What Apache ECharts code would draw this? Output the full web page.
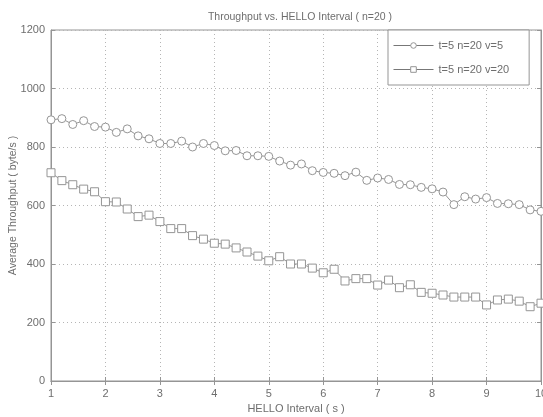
<!DOCTYPE html>
<html><head><meta charset="utf-8">
<script src="https://cdn.jsdelivr.net/npm/echarts@6/dist/echarts.min.js"></script>
<style>html,body{margin:0;padding:0;background:#fff}#c{width:543px;height:417px}</style>
</head><body><div id="c"></div>
<script>
const xs = [1.0,1.2,1.4,1.6,1.8,2.0,2.2,2.4,2.6,2.8,3.0,3.2,3.4,3.6,3.8,4.0,4.2,4.4,4.6,4.8,5.0,5.2,5.4,5.6,5.8,6.0,6.2,6.4,6.6,6.8,7.0,7.2,7.4,7.6,7.8,8.0,8.2,8.4,8.6,8.8,9.0,9.2,9.4,9.6,9.8,10.0];
const v5 = [893,897,877,890,870,868,850,862,838,828,812,812,820,800,812,805,787,788,770,770,768,752,738,742,719,713,710,702,714,686,694,689,672,671,662,657,646,603,630,622,627,607,606,603,585,580];
const v20 = [712,685,671,656,647,613,612,588,562,567,545,521,521,497,485,471,468,455,441,427,411,425,400,400,386,370,382,342,350,350,328,345,319,329,303,300,294,287,287,287,260,277,280,273,254,266];
const seriesNames = ['t=5 n=20 v=5','t=5 n=20 v=20'];
const xTicks = [1,2,3,4,5,6,7,8,9,10];
const yTicks = [0,200,400,600,800,1000,1200];
const titleText = 'Throughput vs. HELLO Interval ( n=20 )';
const xName = 'HELLO Interval ( s )';
const yName = 'Average Throughput ( byte/s )';

const gray = '#959595';
const txt = '#6e6e6e';
const font = 'Liberation Sans';
const chart = echarts.init(document.getElementById('c'));
const tickFmt = v => String(v);
const axisBase = {
  axisLine:{show:true,lineStyle:{color:gray,width:1}},
  axisTick:{show:true,inside:true,length:4,lineStyle:{color:gray}},
};
chart.setOption({
  animation:false,
  backgroundColor:'#fff',
  title:{text:titleText,left:295,textAlign:'center',top:7,textStyle:{color:txt,fontFamily:font,fontSize:10.5,fontWeight:'normal'}},
  grid:{left:51,right:2,top:30,bottom:36,containLabel:false,outerBoundsMode:'none',
        show:true,borderColor:gray,borderWidth:1,backgroundColor:'transparent'},
  legend:{
    orient:'vertical',left:388,top:30,
    itemWidth:40,itemHeight:7,itemGap:13,
    padding:[10,20,10,5],
    borderColor:gray,borderWidth:1,backgroundColor:'#fff',
    itemStyle:{borderWidth:1},
    lineStyle:{width:1,color:'#777'},
    textStyle:{color:txt,fontFamily:font,fontSize:11},
    data:seriesNames
  },
  xAxis:[
    Object.assign({},axisBase,{type:'value',min:1,max:10,interval:1,
      name:xName,nameLocation:'middle',nameGap:22,nameMoveOverlap:false,nameTextStyle:{color:txt,fontFamily:font,fontSize:11},
      axisLabel:{color:txt,fontFamily:font,fontSize:11,margin:7,formatter:tickFmt},
      splitLine:{show:true,lineStyle:{color:'#b5b5b5',type:[1,3],width:1}}}),
    Object.assign({},axisBase,{type:'value',min:1,max:10,interval:1,position:'top',axisLabel:{show:false},splitLine:{show:false}})
  ],
  yAxis:[
    Object.assign({},axisBase,{type:'value',min:0,max:1200,interval:200,
      name:yName,nameLocation:'middle',nameGap:32,nameMoveOverlap:false,nameTextStyle:{color:txt,fontFamily:font,fontSize:10.5},
      axisLabel:{color:txt,fontFamily:font,fontSize:11,margin:6,formatter:tickFmt},
      splitLine:{show:true,lineStyle:{color:'#b5b5b5',type:[1,3],width:1}}}),
    Object.assign({},axisBase,{type:'value',min:0,max:1200,interval:200,position:'right',axisLabel:{show:false},splitLine:{show:false}})
  ],
  series:[
    {name:seriesNames[0],type:'line',symbol:'circle',symbolSize:8,
     data:xs.map((x,i)=>[x,v5[i]]),
     lineStyle:{color:gray,width:1},itemStyle:{color:'#fff',borderColor:gray,borderWidth:1}},
    {name:seriesNames[1],type:'line',symbol:'rect',symbolSize:8,
     data:xs.map((x,i)=>[x,v20[i]]),
     lineStyle:{color:gray,width:1},itemStyle:{color:'#fff',borderColor:gray,borderWidth:1}}
  ]
});
</script></body></html>
